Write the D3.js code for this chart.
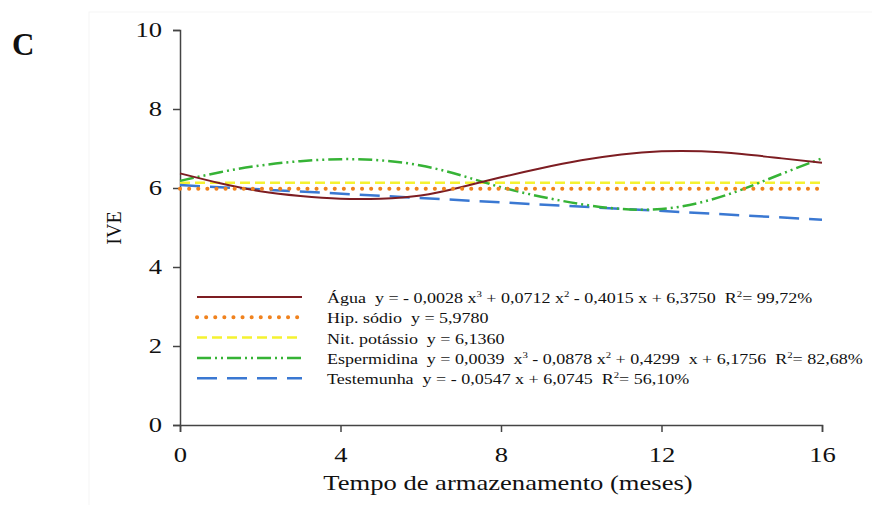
<!DOCTYPE html>
<html>
<head>
<meta charset="utf-8">
<script src="https://cdn.jsdelivr.net/npm/d3@7"></script>
<style>
  html, body { margin: 0; padding: 0; background: #fff; }
  svg { display: block; }
  svg text { font-family: "Liberation Serif", "Times New Roman", serif; fill: #111; }
</style>
</head>
<body>
<svg id="chart" width="872" height="505"></svg>
<script>
// Storage time (months) and IVE values
const months = [0, 1, 2, 3, 4, 5, 6, 7, 8, 9, 10, 11, 12, 13, 14, 15, 16];
const agua = [6.37, 6.12, 5.92, 5.80, 5.73, 5.73, 5.81, 6.02, 6.27, 6.50, 6.70, 6.85, 6.93, 6.93, 6.86, 6.75, 6.64];
const espermidina = [6.18, 6.40, 6.57, 6.68, 6.73, 6.70, 6.57, 6.32, 6.02, 5.78, 5.59, 5.47, 5.47, 5.64, 5.96, 6.36, 6.75];
const endMonths = [0, 16];
const hipSodio = [5.978, 5.978];
const nitPotassio = [6.136, 6.136];
const testemunha = [6.0745, 5.1993];

const xTicks = [0, 4, 8, 12, 16];
const yTicks = [0, 2, 4, 6, 8, 10];

const seriesNames = ["Água", "Hip. sódio", "Nit. potássio", "Espermidina", "Testemunha"];
const seriesEquations = [
  "y = - 0,0028 x^3 + 0,0712 x^2 - 0,4015 x + 6,3750  R^2= 99,72%",
  "y = 5,9780",
  "y = 6,1360",
  "y = 0,0039  x^3 - 0,0878 x^2 + 0,4299  x + 6,1756  R^2= 82,68%",
  "y = - 0,0547 x + 6,0745  R^2= 56,10%"
];

const SERIF = "'Liberation Serif', 'Times New Roman', serif";
const WIDE = 1.33;   // horizontal widening of the serif lettering

const svg = d3.select("#chart");

// faint outer frame
svg.append("rect")
  .attr("x", 89).attr("y", 12).attr("width", 800).attr("height", 520)
  .attr("fill", "none").attr("stroke", "#f5f5f5").attr("stroke-width", 1);

const x = d3.scaleLinear().domain([0, 16]).range([180, 822]);
const y = d3.scaleLinear().domain([0, 10]).range([425, 30]);

// axes
const xAxis = svg.append("g")
  .attr("transform", `translate(0,${y(0)})`)
  .call(d3.axisBottom(x).tickValues(xTicks).tickSize(7).tickPadding(16));
const yAxis = svg.append("g")
  .attr("transform", `translate(${x(0)},0)`)
  .call(d3.axisLeft(y).tickValues(yTicks).tickSize(7).tickPadding(11));

[xAxis, yAxis].forEach(g => {
  g.attr("font-family", SERIF);
  g.select(".domain").attr("stroke", "#444").attr("stroke-width", 1.5);
  g.selectAll(".tick line").attr("stroke", "#444").attr("stroke-width", 1.5);
  g.selectAll(".tick text")
    .style("font-family", SERIF)
    .attr("font-size", 20).attr("fill", "#111")
    .attr("transform", `scale(${WIDE},1)`);
});
yAxis.selectAll(".tick text").attr("x", -18 / WIDE);

// axis titles and panel letter
svg.append("text")
  .attr("transform", `translate(508,490) scale(${WIDE},1)`)
  .attr("text-anchor", "middle").attr("font-size", 20)
  .text("Tempo de armazenamento (meses)");
svg.append("text")
  .attr("transform", "translate(121,228) rotate(-90)")
  .attr("text-anchor", "middle").attr("font-size", 20)
  .text("IVE");
svg.append("text")
  .attr("x", 12).attr("y", 55)
  .attr("font-size", 31).attr("font-weight", "bold")
  .text("C");

// line styles per series
const styles = [
  { color: "#7d1d22", width: 2, dash: null, cap: "butt" },
  { color: "#f0821e", width: 4, dash: "0.1 9", cap: "round" },
  { color: "#f5f230", width: 2.5, dash: "10 5", cap: "butt" },
  { color: "#36b336", width: 2.5, dash: "14 4 2 4 2 4", cap: "butt" },
  { color: "#3a78d2", width: 2.5, dash: "20 10", cap: "butt" }
];

const seriesData = [
  months.map((m, i) => [m, agua[i]]),
  endMonths.map((m, i) => [m, hipSodio[i]]),
  endMonths.map((m, i) => [m, nitPotassio[i]]),
  months.map((m, i) => [m, espermidina[i]]),
  endMonths.map((m, i) => [m, testemunha[i]])
];

const line = d3.line()
  .x(d => x(d[0])).y(d => y(d[1]))
  .curve(d3.curveNatural);

const drawOrder = [2, 4, 3, 0, 1];
drawOrder.forEach(i => {
  const s = styles[i];
  svg.append("path")
    .datum(seriesData[i])
    .attr("d", line)
    .attr("fill", "none")
    .attr("stroke", s.color)
    .attr("stroke-width", s.width)
    .attr("stroke-linecap", s.cap)
    .attr("stroke-dasharray", s.dash);
});

// legend
const legendTop = 297, legendStep = 20.3;
seriesNames.forEach((name, i) => {
  const s = styles[i];
  const ly = legendTop + i * legendStep;
  svg.append("line")
    .attr("x1", 197).attr("x2", 302).attr("y1", ly).attr("y2", ly)
    .attr("stroke", s.color)
    .attr("stroke-width", s.width)
    .attr("stroke-linecap", s.cap)
    .attr("stroke-dasharray", s.dash);

  const t = svg.append("text")
    .attr("transform", `translate(327,${ly + 6}) scale(1.2,1)`)
    .attr("font-size", 15)
    .style("white-space", "pre");
  const full = name + "  " + seriesEquations[i];
  const parts = full.split(/\^(\d)/);
  let lift = 0;
  parts.forEach((p, k) => {
    if (k % 2 === 0) {
      if (p.length) {
        const sp = t.append("tspan").text(p);
        if (lift) { sp.attr("dy", lift); lift = 0; }
      }
    } else {
      t.append("tspan").attr("font-size", 9).attr("dy", -6).text(p);
      lift = 6;
    }
  });
});
</script>
</body>
</html>
